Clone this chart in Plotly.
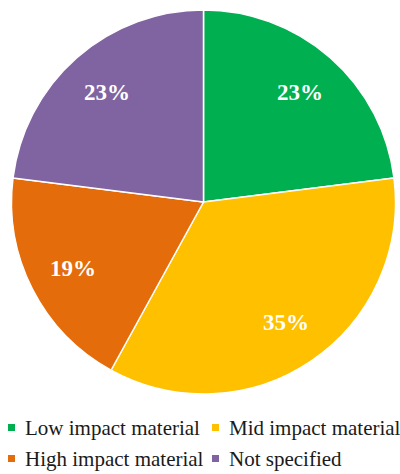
import math
import plotly.graph_objects as go

categories = ["Low impact material", "Mid impact material", "High impact material", "Not specified"]
values = [23, 35, 19, 23]
colors = ["#00B050", "#FFC000", "#E46C0A", "#8064A2"]

W, H = 400, 474
FONT = "Times New Roman"

# pie geometry (pixels)
CX, CY, R = 203.5, 202.0, 192.0

fig = go.Figure()
fig.add_trace(go.Pie(
    labels=categories,
    values=values,
    sort=False,
    direction="clockwise",
    rotation=0,
    marker=dict(colors=colors, line=dict(color="white", width=1.5)),
    textinfo="none",
    domain=dict(x=[(CX - R) / W, (CX + R) / W], y=[(H - CY - R) / H, (H - CY + R) / H]),
    showlegend=False,
    hoverinfo="label+percent",
))

annotations = []
shapes = []

# percentage labels placed at mid-angle of each slice
total = sum(values)
cum = 0.0
for v in values:
    mid = (cum + v / 2) / total * 2 * math.pi
    cum += v
    rf = 0.76 * R
    px = CX + rf * math.sin(mid)
    py = CY - rf * math.cos(mid)
    annotations.append(dict(
        text=f"{round(v / total * 100)}%", xref="paper", yref="paper",
        x=px / W, y=1 - py / H, xanchor="center", yanchor="middle", showarrow=False,
        font=dict(family=FONT, size=23, color="white", weight="bold"),
    ))

# legend: square markers + text, 2 columns x 2 rows
col_x = [8, 212]
row_y = [427, 458]
for i, (cat, col) in enumerate(zip(categories, colors)):
    cx = col_x[i % 2]
    cy = row_y[i // 2]
    shapes.append(dict(
        type="rect", xref="paper", yref="paper",
        x0=cx / W, x1=(cx + 7) / W, y0=1 - (cy + 4) / H, y1=1 - (cy - 3) / H,
        fillcolor=col, line=dict(width=0),
    ))
    annotations.append(dict(
        text=cat, xref="paper", yref="paper",
        x=(cx + 15) / W, y=1 - (cy + 1) / H,
        xanchor="left", yanchor="middle", showarrow=False,
        font=dict(family=FONT, size=21, color="#1a1a1a"),
    ))

fig.update_layout(
    width=W, height=H,
    margin=dict(l=0, r=0, t=0, b=0),
    paper_bgcolor="white",
    plot_bgcolor="white",
    shapes=shapes,
    annotations=annotations,
)

fig.write_html("out.html")
